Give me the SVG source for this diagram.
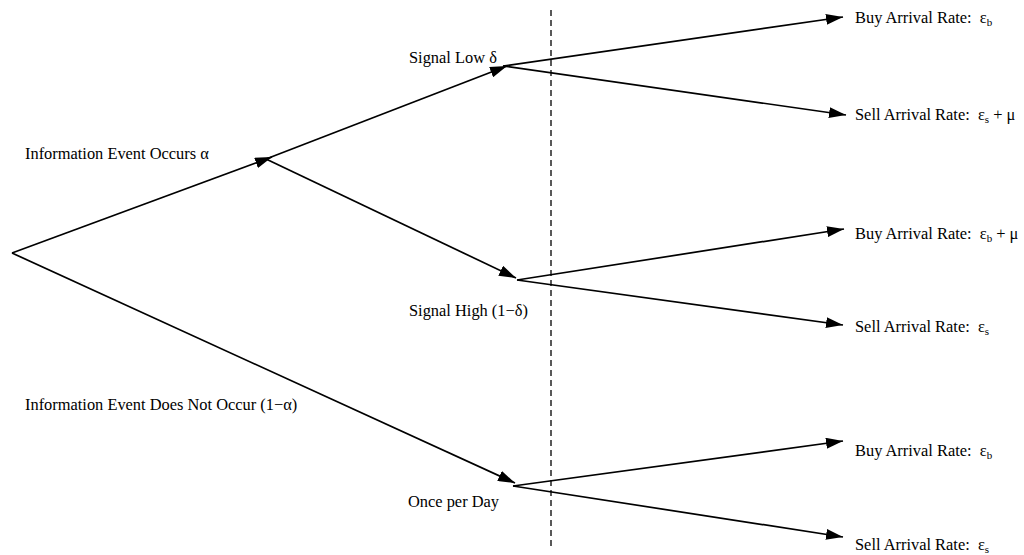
<svg xmlns="http://www.w3.org/2000/svg" width="1024" height="555" viewBox="0 0 1024 555">
<style>
text{font-family:"Liberation Serif","Times New Roman",serif;font-size:16.4px;fill:#000}
.sub{font-size:11px}
.e{stroke:#000;stroke-width:1.7;fill:none}
.d{stroke:#000;stroke-width:1.3;stroke-dasharray:6,4;fill:none}
</style>
<defs>
<marker id="ah" viewBox="0 0 17 11" refX="17" refY="5.5" markerWidth="17" markerHeight="11" markerUnits="userSpaceOnUse" orient="auto">
<path d="M0,0 L17,5.5 L0,11 Z" fill="#000"/>
</marker>
</defs>
<g id="connectors">
<line class="e" x1="12" y1="253" x2="272" y2="157" marker-end="url(#ah)"/>
<line class="e" x1="12" y1="253" x2="515" y2="483" marker-end="url(#ah)"/>
<line class="e" x1="266" y1="159" x2="507" y2="66" marker-end="url(#ah)"/>
<line class="e" x1="266" y1="159" x2="516" y2="278" marker-end="url(#ah)"/>
<line class="e" x1="503" y1="66" x2="843" y2="17" marker-end="url(#ah)"/>
<line class="e" x1="503" y1="66" x2="846" y2="115" marker-end="url(#ah)"/>
<line class="e" x1="517" y1="280" x2="844" y2="229" marker-end="url(#ah)"/>
<line class="e" x1="517" y1="280" x2="843" y2="325" marker-end="url(#ah)"/>
<line class="e" x1="513" y1="486" x2="843" y2="441" marker-end="url(#ah)"/>
<line class="e" x1="513" y1="486" x2="843" y2="537" marker-end="url(#ah)"/>
<line class="d" x1="551" y1="10" x2="551" y2="550"/>
</g>
<g id="root"><text x="25" y="159">Information Event Occurs α</text></g>
<g id="no-event"><text x="25" y="410">Information Event Does Not Occur (1−α)</text></g>
<g id="signal-low"><text x="409" y="63">Signal Low δ</text></g>
<g id="signal-high"><text x="409" y="316">Signal High (1−δ)</text></g>
<g id="once"><text x="408" y="507">Once per Day</text></g>
<g id="leaf1"><text x="855" y="23" xml:space="preserve">Buy Arrival Rate:  ε<tspan class="sub" dy="3">b</tspan></text></g>
<g id="leaf2"><text x="855" y="120" xml:space="preserve">Sell Arrival Rate:  ε<tspan class="sub" dy="3">s</tspan><tspan dy="-3"> + μ</tspan></text></g>
<g id="leaf3"><text x="855" y="239" xml:space="preserve">Buy Arrival Rate:  ε<tspan class="sub" dy="3">b</tspan><tspan dy="-3"> + μ</tspan></text></g>
<g id="leaf4"><text x="855" y="332" xml:space="preserve">Sell Arrival Rate:  ε<tspan class="sub" dy="3">s</tspan></text></g>
<g id="leaf5"><text x="855" y="456" xml:space="preserve">Buy Arrival Rate:  ε<tspan class="sub" dy="3">b</tspan></text></g>
<g id="leaf6"><text x="855" y="550" xml:space="preserve">Sell Arrival Rate:  ε<tspan class="sub" dy="3">s</tspan></text></g>
</svg>
